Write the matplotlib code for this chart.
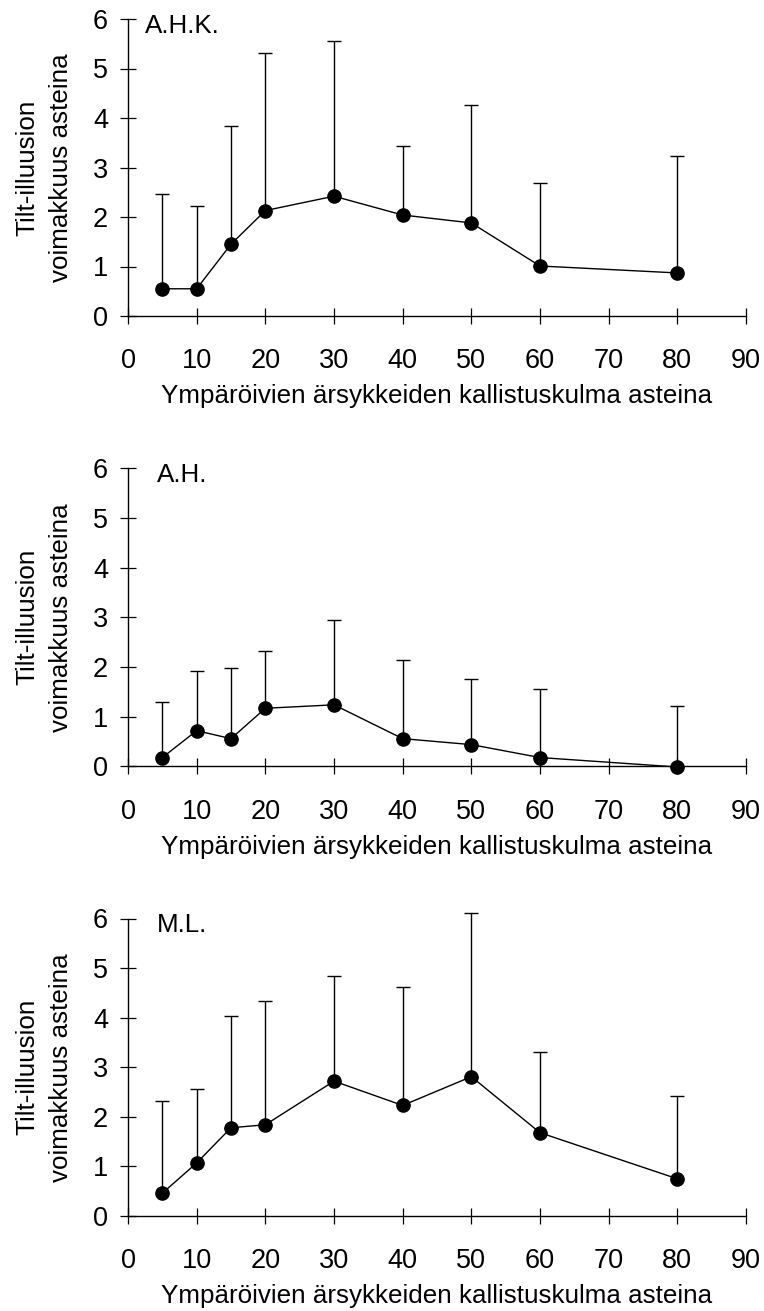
import numpy as np
import matplotlib
matplotlib.use("Agg")
import matplotlib.pyplot as plt

plt.rcParams['font.family'] = ['Liberation Sans', 'DejaVu Sans']
plt.rcParams['font.size'] = 18.7

# surround tilt angles (degrees)
angles = [5, 10, 15, 20, 30, 40, 50, 60, 80]

# observers
names = ["A.H.K.", "A.H.", "M.L."]

# mean illusion strength and upper error (sd) per observer
ahk_mean = [0.55, 0.55, 1.45, 2.13, 2.42, 2.04, 1.88, 1.01, 0.87]
ahk_sd = [1.91, 1.68, 2.39, 3.18, 3.14, 1.40, 2.39, 1.68, 2.37]

ah_mean = [0.18, 0.72, 0.56, 1.17, 1.24, 0.56, 0.44, 0.18, -0.01]
ah_sd = [1.12, 1.19, 1.41, 1.16, 1.71, 1.58, 1.31, 1.38, 1.22]

ml_mean = [0.46, 1.07, 1.78, 1.84, 2.72, 2.23, 2.81, 1.68, 0.75]
ml_sd = [1.86, 1.49, 2.26, 2.49, 2.12, 2.39, 3.30, 1.62, 1.67]

means = [ahk_mean, ah_mean, ml_mean]
sds = [ahk_sd, ah_sd, ml_sd]
name_x = [0.027, 0.047, 0.047]

fig = plt.figure(figsize=(7.64, 13.11), dpi=100)

W, H = 764, 1311
left = 128 / W
width = 618 / W
# pixel rows of y=6 and y=0 for each panel
rows = [(19, 316), (468, 766.5), (918.5, 1216)]

for i, (top, bot) in enumerate(rows):
    ax = fig.add_axes([left, 1 - bot / H, width, (bot - top) / H])
    m = np.array(means[i])
    sd = np.array(sds[i])
    ax.errorbar(angles, m, yerr=[np.zeros_like(sd), sd], fmt='o-', color='black',
                ms=9.5, lw=1.0, elinewidth=1.0, capsize=5, capthick=1.0,
                clip_on=False, zorder=3)

    ax.set_xlim(0, 90)
    ax.set_ylim(0, 6)
    ax.set_xticks(np.arange(0, 91, 10))
    ax.set_yticks(np.arange(0, 7, 1))
    ax.spines['top'].set_visible(False)
    ax.spines['right'].set_visible(False)
    ax.spines['left'].set_linewidth(1.0)
    ax.spines['bottom'].set_linewidth(1.0)
    ax.tick_params(axis='both', direction='inout', length=11.5, width=0.9,
                   labelsize=19.5)
    ax.tick_params(axis='y', pad=8.5)
    ax.tick_params(axis='x', pad=17.5)

    ax.set_xlabel("Ympäröivien ärsykkeiden kallistuskulma asteina")
    ax.xaxis.set_label_coords(0.5, -0.23)

    ax.text(-0.136, 0.5, "Tilt-illuusion\nvoimakkuus asteina", transform=ax.transAxes,
            rotation=90, ha='center', va='center', multialignment='center',
            linespacing=1.5)

    ax.text(name_x[i], 0.954, names[i], transform=ax.transAxes,
            ha='left', va='baseline')

fig.savefig("out.png", dpi=100)
